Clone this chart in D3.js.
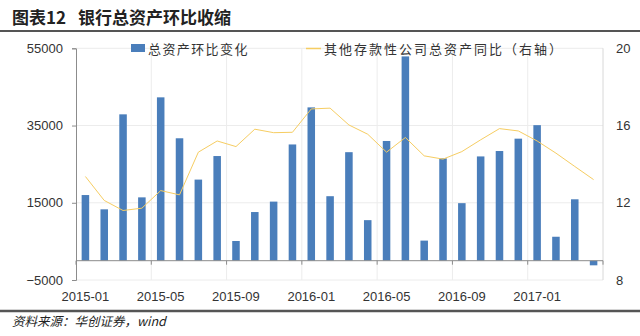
<!DOCTYPE html>
<html>
<head>
<meta charset="utf-8">
<script src="https://cdn.jsdelivr.net/npm/d3@7"></script>
<style>
  html, body { margin: 0; padding: 0; background: #fff; }
  svg { display: block; }
  text { font-family: "Liberation Sans", Arial, sans-serif; }
  .cjk { font-family: "Noto Sans CJK SC", sans-serif; }
</style>
</head>
<body>
<svg id="chart" width="640" height="336"></svg>
<script>
// Months on the category axis
const months = [
  "2015-01","2015-02","2015-03","2015-04","2015-05","2015-06","2015-07","2015-08",
  "2015-09","2015-10","2015-11","2015-12","2016-01","2016-02","2016-03","2016-04",
  "2016-05","2016-06","2016-07","2016-08","2016-09","2016-10","2016-11","2016-12",
  "2017-01","2017-02","2017-03","2017-04"
];
// Month-on-month change of bank total assets (left axis)
const assetChange = [
  17000, 13300, 37900, 16400, 42300, 31700, 21000, 27100,
  5100, 12600, 15300, 30100, 39700, 16700, 28100, 10500,
  31000, 52900, 5200, 26500, 14900, 27000, 28400, 31600,
  35100, 6200, 15900, -1200
];
// Year-on-year growth of other depository corporations' total assets (right axis, %)
const odcYoY = [
  13.36, 12.12, 11.60, 11.72, 12.63, 12.41, 14.62, 15.20,
  14.91, 15.81, 15.63, 15.65, 16.86, 16.90, 16.03, 15.55,
  14.62, 15.38, 14.43, 14.26, 14.65, 15.26, 15.84, 15.72,
  15.20, 14.57, 13.88, 13.20
];
const leftTicks = [-5000, 15000, 35000, 55000];
const rightTicks = [8, 12, 16, 20];
const labelMonths = ["2015-01","2015-05","2015-09","2016-01","2016-05","2016-09","2017-01"];
const seriesNames = ["总资产环比变化", "其他存款性公司总资产同比（右轴）"];

const svg = d3.select("#chart");
const plot = { left: 76, right: 603, top: 48.3, bottom: 280 };

const x = d3.scaleBand().domain(months).range([plot.left, plot.right]).paddingInner(0.6).paddingOuter(0.3);
const yL = d3.scaleLinear().domain([-5000, 55000]).range([plot.bottom, plot.top]);
const yR = d3.scaleLinear().domain([8, 20]).range([plot.bottom, plot.top]);
const step = x.step();
const bandStart = m => plot.left + months.indexOf(m) * step;

// Title and rules
svg.append("text").attr("class", "cjk").attr("x", 12).attr("y", 24)
  .attr("font-size", 17).attr("font-weight", "bold").attr("fill", "#222").text("图表12");
svg.append("text").attr("class", "cjk").attr("x", 78).attr("y", 24)
  .attr("font-size", 17).attr("font-weight", "bold").attr("fill", "#222")
  .text("银行总资产环比收缩");
svg.append("line").attr("x1", 0).attr("x2", 640).attr("y1", 31).attr("y2", 31)
  .attr("stroke", "#555").attr("stroke-width", 2);
svg.append("line").attr("x1", 0).attr("x2", 640).attr("y1", 311).attr("y2", 311)
  .attr("stroke", "#555").attr("stroke-width", 2.5);
svg.append("text").attr("class", "cjk").attr("x", 12).attr("y", 326)
  .attr("font-size", 12.5).attr("font-style", "italic").attr("fill", "#222").text("资料来源：华创证券，wind");

// Grid
const grid = svg.append("g").attr("stroke", "#ececec").attr("stroke-width", 1);
leftTicks.forEach(t => grid.append("line").attr("x1", plot.left).attr("x2", plot.right)
  .attr("y1", yL(t)).attr("y2", yL(t)));
labelMonths.slice(1).forEach(m => grid.append("line").attr("x1", bandStart(m)).attr("x2", bandStart(m))
  .attr("y1", plot.top).attr("y2", plot.bottom));
grid.append("line").attr("x1", plot.right).attr("x2", plot.right).attr("y1", plot.top).attr("y2", plot.bottom)
  .attr("stroke", "#d8d8d8");

// Left axis
const axL = svg.append("g").attr("transform", `translate(${plot.left},0)`)
  .call(d3.axisLeft(yL).tickValues(leftTicks).tickSize(4).tickPadding(9).tickFormat(d3.format("d")));
axL.select(".domain").attr("stroke", "#8c8c8c");
axL.selectAll(".tick line").attr("stroke", "#8c8c8c");
axL.selectAll("text").attr("font-size", 13).attr("fill", "#333").attr("font-family", "Liberation Sans, Arial, sans-serif");

// Right axis labels
const axR = svg.append("g").attr("transform", `translate(${plot.right},0)`)
  .call(d3.axisRight(yR).tickValues(rightTicks).tickSize(0).tickPadding(13).tickFormat(d3.format("d")));
axR.select(".domain").remove();
axR.selectAll("text").attr("font-size", 13).attr("fill", "#333").attr("font-family", "Liberation Sans, Arial, sans-serif");

// Bars
svg.append("g").selectAll("rect").data(months).join("rect")
  .attr("x", d => x(d))
  .attr("width", x.bandwidth())
  .attr("y", (d, i) => yL(Math.max(0, assetChange[i])))
  .attr("height", (d, i) => Math.abs(yL(assetChange[i]) - yL(0)))
  .attr("fill", "#4a7ebb");

// Zero baseline with category ticks
const base = svg.append("g").attr("stroke", "#8c8c8c").attr("stroke-width", 1);
base.append("line").attr("x1", plot.left).attr("x2", plot.right).attr("y1", yL(0)).attr("y2", yL(0));
labelMonths.concat([null]).forEach(m => {
  const xx = m ? bandStart(m) : plot.right;
  base.append("line").attr("x1", xx).attr("x2", xx).attr("y1", yL(0)).attr("y2", yL(0) + 4);
});

// Month labels
const axB = svg.append("g").attr("transform", `translate(0,${plot.bottom})`)
  .call(d3.axisBottom(x).tickValues(labelMonths).tickSize(0).tickPadding(12));
axB.select(".domain").remove();
axB.selectAll("text").attr("font-size", 13).attr("fill", "#333").attr("font-family", "Liberation Sans, Arial, sans-serif");

// Growth line
const line = d3.line().x((d, i) => x(months[i]) + x.bandwidth() / 2).y(d => yR(d));
svg.append("path").datum(odcYoY).attr("d", line)
  .attr("fill", "none").attr("stroke", "#f6cd62").attr("stroke-width", 1);

// Legend
const lg = svg.append("g");
lg.append("rect").attr("x", 131).attr("y", 44).attr("width", 14).attr("height", 8).attr("fill", "#4a7ebb");
lg.append("text").attr("class", "cjk").attr("x", 148).attr("y", 53.5).attr("font-size", 13)
  .attr("letter-spacing", 1.4).attr("fill", "#333").text(seriesNames[0]);
lg.append("line").attr("x1", 306).attr("x2", 321).attr("y1", 48.5).attr("y2", 48.5)
  .attr("stroke", "#f6cd62").attr("stroke-width", 1.5);
lg.append("text").attr("class", "cjk").attr("x", 324).attr("y", 53.5).attr("font-size", 13)
  .attr("letter-spacing", 2).attr("fill", "#333").text(seriesNames[1]);
</script>
</body>
</html>
